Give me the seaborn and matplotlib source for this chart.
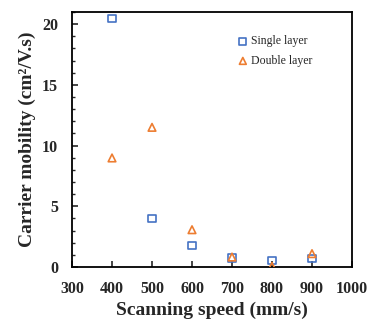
import matplotlib
matplotlib.use("Agg")
import matplotlib.pyplot as plt
import seaborn as sns
import pandas as pd
from matplotlib.ticker import MultipleLocator

speeds = [400, 500, 600, 700, 800, 900]
single_layer = [20.45, 4.0, 1.78, 0.74, 0.52, 0.71]
double_layer = [8.98, 11.5, 3.07, 0.82, 0.05, 1.1]
series_names = ["Single layer", "Double layer"]

sns.set_style("white")
plt.rcParams["font.family"] = ["Liberation Serif", "DejaVu Serif"]

fig = plt.figure(figsize=(3.68, 3.23), dpi=100)
ax = fig.add_axes([0.1957, 0.1734, 0.7608, 0.7896])

colors = ["#4472C4", "#ED7D31"]
markers = ["s", "^"]
for name, vals, col, mk in zip(series_names, [single_layer, double_layer], colors, markers):
    d = pd.DataFrame({"speed": speeds, "mobility": vals})
    sns.scatterplot(data=d, x="speed", y="mobility", ax=ax, marker=mk, s=30,
                    facecolor="none", edgecolor=col, linewidth=1.2, label=name,
                    zorder=3)

ax.set_xlim(300, 1000)
ax.set_ylim(0, 21)
ax.xaxis.set_major_locator(MultipleLocator(100))
ax.yaxis.set_major_locator(MultipleLocator(5))
ax.yaxis.set_minor_locator(MultipleLocator(1))
ax.tick_params(axis="both", which="major", direction="in", length=4, width=1.2,
               labelsize=11.5, bottom=True, left=True)
ax.tick_params(axis="x", which="major", pad=10)
ax.tick_params(axis="y", which="major", pad=10)
ax.tick_params(axis="y", which="minor", direction="in", length=2.5, width=1, left=True)
for lab in ax.get_xticklabels() + ax.get_yticklabels():
    lab.set_fontweight("bold")
for sp in ax.spines.values():
    sp.set_linewidth(1.3)
    sp.set_color("black")

ax.set_xlabel("Scanning speed (mm/s)", fontsize=14, fontweight="bold")
ax.set_ylabel("Carrier mobility (cm²/V.s)", fontsize=14, fontweight="bold")
ax.xaxis.set_label_coords(0.5, -0.135)
ax.yaxis.set_label_coords(-0.13, 0.5)

leg = ax.legend(loc="upper left", bbox_to_anchor=(0.53, 0.95), frameon=False,
                fontsize=8.5, handletextpad=-0.3, labelspacing=0.65, markerscale=0.9)
for h, col in zip(leg.legend_handles, colors):
    h.set_facecolor("none")
    h.set_edgecolor(col)

fig.savefig("out.png", dpi=100)
